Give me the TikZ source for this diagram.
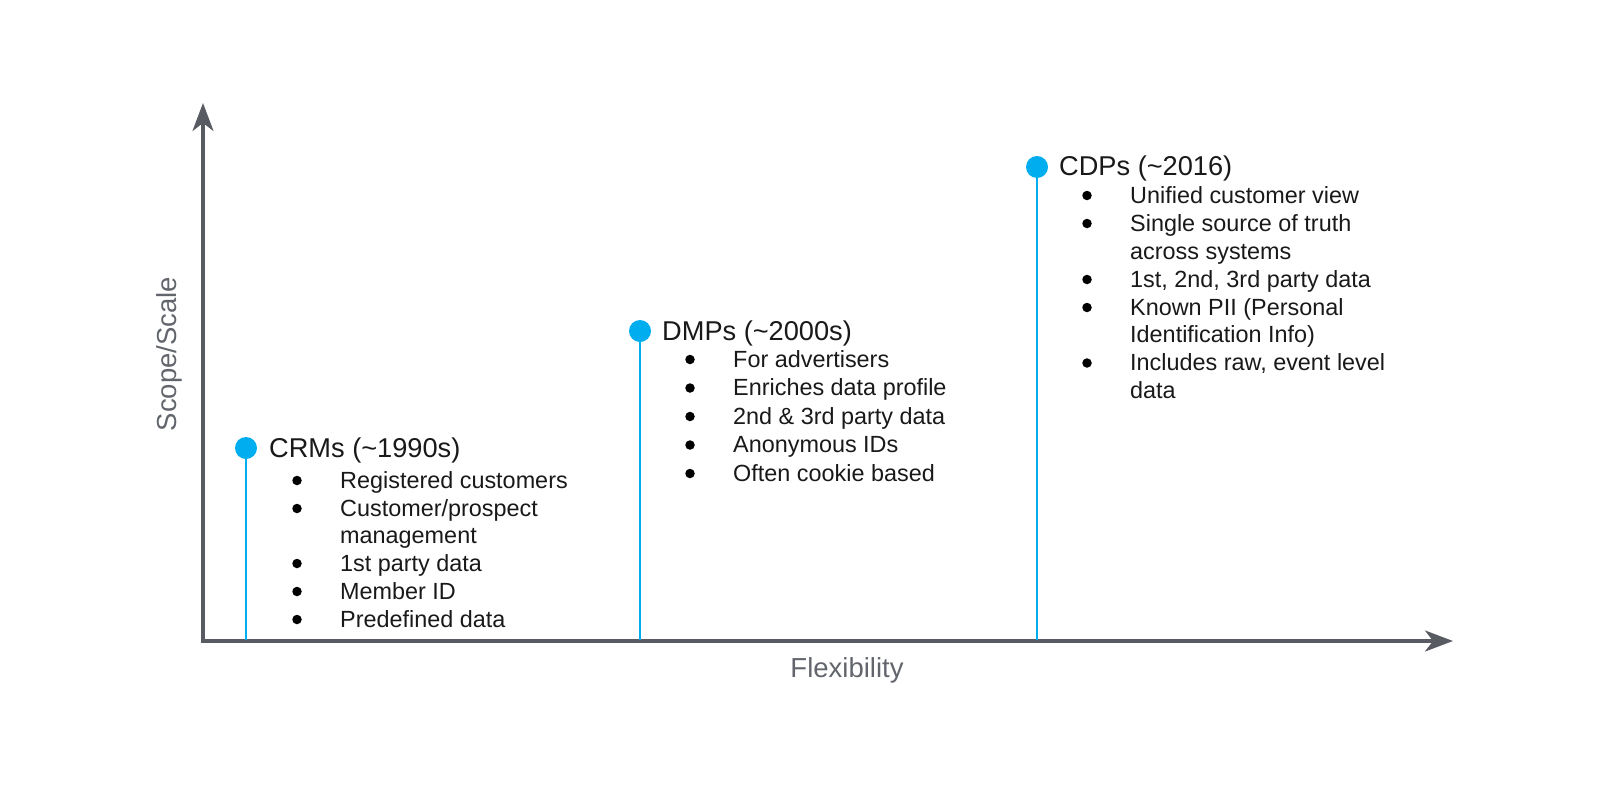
\documentclass[tikz,border=0pt]{standalone}
\usepackage{fontspec}
\setmainfont{Liberation Sans}
\usetikzlibrary{arrows.meta}
\definecolor{axisgray}{RGB}{88,92,98}
\definecolor{labelgray}{RGB}{98,102,108}
\definecolor{cyanblue}{RGB}{0,174,239}
\newcommand\bitem[4]{%
  \node[bulletdot] (#1b) at (#2-43,#3-7.5) {};
  \node[itemtext] (#1) at (#2,#3) {#4};}
\newcommand\citem[4]{%
  \node[itemtext] (#1) at (#2,#3) {#4};}
\begin{document}
\begin{tikzpicture}[x=1pt,y=-1pt,
  axis/.style={draw=axisgray, line width=3.2pt, -{Stealth[length=28pt,width=21pt,inset=8pt]}},
  axislabel/.style={text=labelgray, font=\fontsize{27.5}{31}\selectfont, inner sep=0pt},
  stem/.style={draw=cyanblue, line width=2pt},
  dot/.style={circle, fill=cyanblue, minimum size=22pt, inner sep=0pt},
  title/.style={anchor=base west, inner sep=0pt, font=\fontsize{27.2}{31}\selectfont, text=black!90},
  itemtext/.style={anchor=base west, inner sep=0pt, font=\fontsize{23.4}{27}\selectfont, text=black!90},
  bulletdot/.style={circle, fill=black, minimum size=9.5pt, inner sep=0pt}
]
\useasboundingbox (0,0) rectangle (1600,798);
% axes
\coordinate (O) at (203,641);
\coordinate (ytop) at (203,103);
\coordinate (xend) at (1453,641);
\draw[axis] (O) -- (ytop);
\draw[axis] ([xshift=-1.6pt]O) -- (xend);
\node[axislabel, rotate=90] (ylab) at (169,354) {Scope/Scale};
\node[axislabel] (xlab) at (847,670) {Flexibility};
% stems and dots
\node[dot] (crmdot) at (246,448) {};
\node[dot] (dmpdot) at (640,331) {};
\node[dot] (cdpdot) at (1037,167) {};
\coordinate (crmfoot) at (246,640);
\coordinate (dmpfoot) at (640,640);
\coordinate (cdpfoot) at (1037,640);
\draw[stem] (crmdot.center) -- (crmfoot);
\draw[stem] (dmpdot.center) -- (dmpfoot);
\draw[stem] (cdpdot.center) -- (cdpfoot);
% CRMs
\node[title] (crmtitle) at (269,457) {CRMs (\char`\~1990s)};
\bitem{crm1}{340}{488}{Registered customers}
\bitem{crm2}{340}{516}{Customer/prospect}
\citem{crm2b}{340}{543.5}{management}
\bitem{crm3}{340}{571}{1st party data}
\bitem{crm4}{340}{599}{Member ID}
\bitem{crm5}{340}{627}{Predefined data}
% DMPs
\node[title] (dmptitle) at (662,340) {DMPs (\char`\~2000s)};
\bitem{dmp1}{733}{367}{For advertisers}
\bitem{dmp2}{733}{395.5}{Enriches data profile}
\bitem{dmp3}{733}{424}{2nd \& 3rd party data}
\bitem{dmp4}{733}{452.5}{Anonymous IDs}
\bitem{dmp5}{733}{481}{Often cookie based}
% CDPs
\node[title] (cdptitle) at (1059,175) {CDPs (\char`\~2016)};
\bitem{cdp1}{1130}{203}{Unified customer view}
\bitem{cdp2}{1130}{231}{Single source of truth}
\citem{cdp2b}{1130}{259}{across systems}
\bitem{cdp3}{1130}{287}{1st, 2nd, 3rd party data}
\bitem{cdp4}{1130}{315}{Known PII (Personal}
\citem{cdp4b}{1130}{342.5}{Identification Info)}
\bitem{cdp5}{1130}{370.5}{Includes raw, event level}
\citem{cdp5b}{1130}{398}{data}
\end{tikzpicture}
\end{document}
